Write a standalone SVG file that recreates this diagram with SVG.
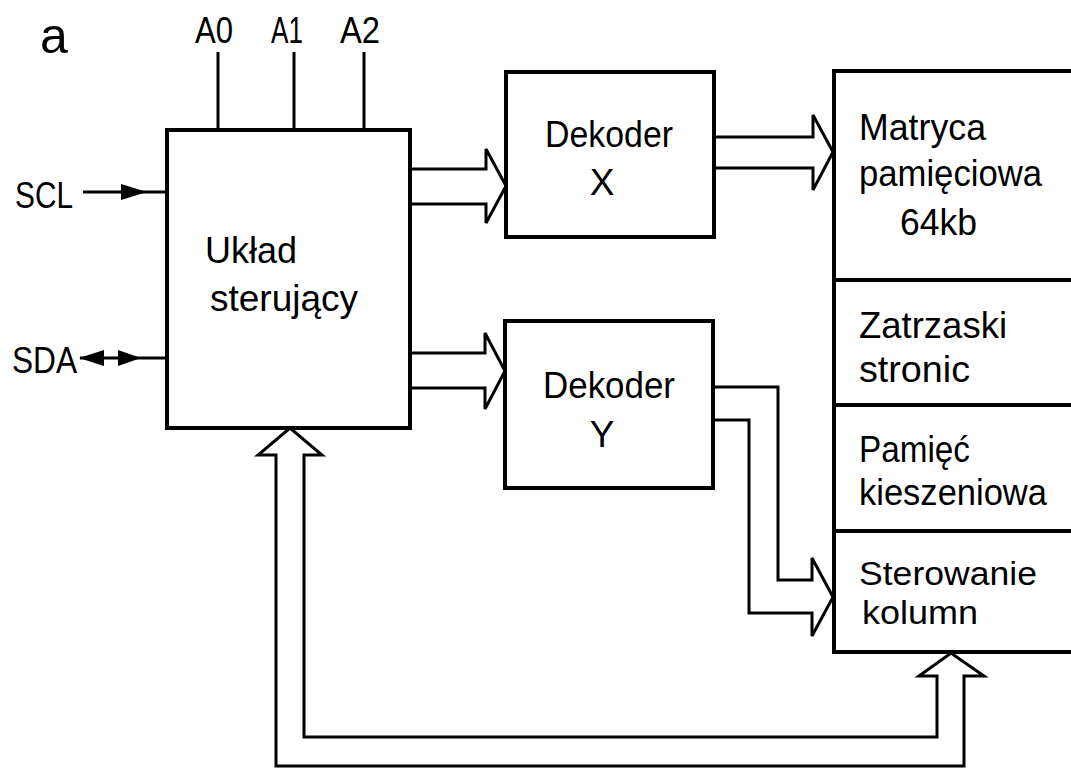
<svg xmlns="http://www.w3.org/2000/svg" width="1071" height="768" viewBox="0 0 1071 768">
<style>
.box{fill:#fff;stroke:#000;stroke-width:4}
.ln{fill:none;stroke:#000;stroke-width:3}
.bus{fill:#fff;stroke:#000;stroke-width:3;stroke-linejoin:miter}
.t{font-family:"Liberation Sans",Arial,sans-serif;font-size:37px;fill:#000}
.s{font-size:34px}
</style>
<rect width="1071" height="768" fill="#fff"/>
<text class="t" x="40" y="53" style="font-size:50px">a</text>
<g id="connectors">
<line class="ln" x1="218" y1="52" x2="218" y2="130"/>
<line class="ln" x1="294" y1="52" x2="294" y2="130"/>
<line class="ln" x1="364" y1="52" x2="364" y2="130"/>
<line class="ln" x1="83" y1="192" x2="167" y2="192"/>
<path d="M121,184 L147,192 L121,200 Z" fill="#000"/>
<line class="ln" x1="80" y1="358" x2="167" y2="358"/>
<path d="M104,350 L79,358 L104,366 Z" fill="#000"/>
<path d="M118,350 L141,358 L118,366 Z" fill="#000"/>
<path class="bus" d="M410,169 H486 V149 L506,186 L486,223 V204 H410"/>
<path class="bus" d="M714,137 H813 V115 L833,152 L813,190 V168 H714"/>
<path class="bus" d="M410,353 H485 V333 L505,371 L485,409 V388 H410"/>
<path class="bus" d="M713,387 H778 V580 H812 V558 L833,597 L812,636 V613 H749 V420 H713"/>
<path class="bus" d="M276,455 H258 L290,428 L322,455 H304 V737 H937 V676 H919 L951,653 L984,676 H964 V766 H276 Z"/>
</g>
<g id="pins">
<text class="t" x="195" y="43" textLength="38" lengthAdjust="spacingAndGlyphs">A0</text>
<text class="t" x="271" y="43" textLength="32" lengthAdjust="spacingAndGlyphs">A1</text>
<text class="t" x="340" y="43" textLength="40" lengthAdjust="spacingAndGlyphs">A2</text>
<text class="t" x="15" y="208" textLength="58" lengthAdjust="spacingAndGlyphs">SCL</text>
<text class="t" x="12" y="373" textLength="65" lengthAdjust="spacingAndGlyphs">SDA</text>
</g>
<g id="uklad">
<rect class="box" x="167" y="130" width="243" height="298"/>
<text class="t" x="205" y="263" textLength="92" lengthAdjust="spacingAndGlyphs">Układ</text>
<text class="t" x="210" y="311" textLength="148" lengthAdjust="spacingAndGlyphs">sterujący</text>
</g>
<g id="dekoderX">
<rect class="box" x="506" y="72" width="208" height="165"/>
<text class="t" x="545" y="147" textLength="128" lengthAdjust="spacingAndGlyphs">Dekoder</text>
<text class="t" x="602" y="195" text-anchor="middle">X</text>
</g>
<g id="dekoderY">
<rect class="box" x="505" y="321" width="208" height="167"/>
<text class="t" x="543" y="398" textLength="132" lengthAdjust="spacingAndGlyphs">Dekoder</text>
<text class="t" x="602" y="447" text-anchor="middle">Y</text>
</g>
<g id="pamiec">
<rect class="box" x="834" y="71" width="260" height="581"/>
<line class="box" x1="834" y1="280" x2="1071" y2="280"/>
<line class="box" x1="834" y1="405" x2="1071" y2="405"/>
<line class="box" x1="834" y1="531" x2="1071" y2="531"/>
<text class="t" x="859" y="140" textLength="127" lengthAdjust="spacingAndGlyphs">Matryca</text>
<text class="t" x="859" y="186" textLength="183" lengthAdjust="spacingAndGlyphs">pamięciowa</text>
<text class="t" x="900" y="235" textLength="77" lengthAdjust="spacingAndGlyphs">64kb</text>
<text class="t" x="859" y="338" textLength="148" lengthAdjust="spacingAndGlyphs">Zatrzaski</text>
<text class="t" x="859" y="382" textLength="111" lengthAdjust="spacingAndGlyphs">stronic</text>
<text class="t" x="859" y="462" textLength="111" lengthAdjust="spacingAndGlyphs">Pamięć</text>
<text class="t" x="859" y="505" textLength="188" lengthAdjust="spacingAndGlyphs">kieszeniowa</text>
<text class="t s" x="859" y="585" textLength="178" lengthAdjust="spacingAndGlyphs">Sterowanie</text>
<text class="t s" x="862" y="624" textLength="116" lengthAdjust="spacingAndGlyphs">kolumn</text>
</g>
</svg>
